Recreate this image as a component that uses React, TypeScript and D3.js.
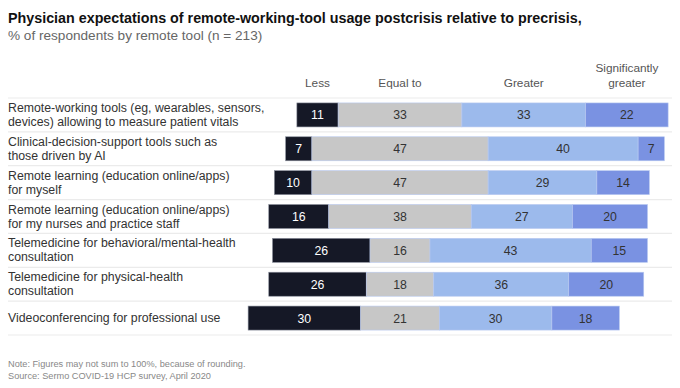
import React from "react";
import * as d3 from "d3";

const categories: string[][] = [
  ["Remote-working tools (eg, wearables, sensors,", "devices) allowing to measure patient vitals"],
  ["Clinical-decision-support tools such as", "those driven by AI"],
  ["Remote learning (education online/apps)", "for myself"],
  ["Remote learning (education online/apps)", "for my nurses and practice staff"],
  ["Telemedicine for behavioral/mental-health", "consultation"],
  ["Telemedicine for physical-health", "consultation"],
  ["Videoconferencing for professional use"],
];
const less = [11, 7, 10, 16, 26, 26, 30];
const equalTo = [33, 47, 47, 38, 16, 18, 21];
const greater = [33, 40, 29, 27, 43, 36, 30];
const sigGreater = [22, 7, 14, 20, 15, 20, 18];
const seriesNames = ["Less", "Equal to", "Greater", "Significantly greater"];
const colors = ["#151826", "#c7c7c7", "#9cbaec", "#7a92e2"];
const textColors = ["#ffffff", "#333333", "#333333", "#333333"];

const W = 680;
const H = 388;
const FONT = "'Liberation Sans', Arial, Helvetica, sans-serif";

export default function App() {
  const x = d3.scaleLinear().domain([-50, 50]).range([212.5, 587.5]);
  const ids = categories.map((_, i) => String(i));
  const y = d3.scaleBand<string>().domain(ids).range([98, 335]).padding(0);
  const barH = 24;
  const series = [less, equalTo, greater, sigGreater];

  const rows = ids.map((id, i) => {
    const start = -(less[i] + equalTo[i] / 2);
    let acc = start;
    const segs = series.map((s, k) => {
      const v = s[i];
      const seg = { k, x0: acc, x1: acc + v, v };
      acc += v;
      return seg;
    });
    return { id, i, segs };
  });

  const headerSegs = rows[0].segs;

  return (
    <svg width={W} height={H} style={{ position: "absolute", left: 0, top: 0, background: "#fff" }}>
      <text x={8} y={23} fontFamily={FONT} fontWeight="bold" fontSize={14.3} fill="#111">
        Physician expectations of remote-working-tool usage postcrisis relative to precrisis,
      </text>
      <text x={8} y={40} fontFamily={FONT} fontSize={13.6} fill="#666">
        % of respondents by remote tool (n = 213)
      </text>
      {headerSegs.map((s) => {
        const cx = (x(s.x0) + x(s.x1)) / 2;
        const name = seriesNames[s.k];
        if (s.k === 3) {
          return (
            <text key={s.k} x={cx} textAnchor="middle" fontFamily={FONT} fontSize={11.8} fill="#555">
              <tspan x={cx} y={72}>Significantly</tspan>
              <tspan x={cx} y={87}>greater</tspan>
            </text>
          );
        }
        return (
          <text key={s.k} x={cx} y={87} textAnchor="middle" fontFamily={FONT} fontSize={11.8} fill="#555">
            {name}
          </text>
        );
      })}
      {ids.concat(["end"]).map((id, j) => {
        const yy = j < ids.length ? (y(id) as number) : y.range()[1];
        return <line key={"l" + j} x1={8} x2={672} y1={yy} y2={yy} stroke="#ebebeb" strokeWidth={1.2} />;
      })}
      {rows.map((r) => {
        const cy = (y(r.id) as number) + y.bandwidth() / 2;
        const lines = categories[r.i];
        return (
          <g key={r.id}>
            {lines.length === 2 ? (
              <text fontFamily={FONT} fontSize={12.3} fill="#333">
                <tspan x={8} y={cy - 3}>{lines[0]}</tspan>
                <tspan x={8} y={cy + 11}>{lines[1]}</tspan>
              </text>
            ) : (
              <text x={8} y={cy + 4} fontFamily={FONT} fontSize={12.3} fill="#333">
                {lines[0]}
              </text>
            )}
            {r.segs.map((s) => (
              <rect
                key={s.k}
                x={x(s.x0)}
                y={cy - barH / 2}
                width={x(s.x1) - x(s.x0)}
                height={barH}
                fill={colors[s.k]}
                stroke={s.k === 0 ? "#8a8f9c" : "#b8c9f0"}
                strokeWidth={0.6}
              />
            ))}
            {r.segs.map((s) => (
              <text
                key={"t" + s.k}
                x={(x(s.x0) + x(s.x1)) / 2}
                y={cy + 4.5}
                textAnchor="middle"
                fontFamily={FONT}
                fontSize={12.3}
                fill={textColors[s.k]}
              >
                {s.v}
              </text>
            ))}
          </g>
        );
      })}
      <text x={8} y={367} fontFamily={FONT} fontSize={9.2} fill="#888">
        Note: Figures may not sum to 100%, because of rounding.
      </text>
      <text x={8} y={379} fontFamily={FONT} fontSize={9.2} fill="#888">
        Source: Sermo COVID-19 HCP survey, April 2020
      </text>
    </svg>
  );
}
